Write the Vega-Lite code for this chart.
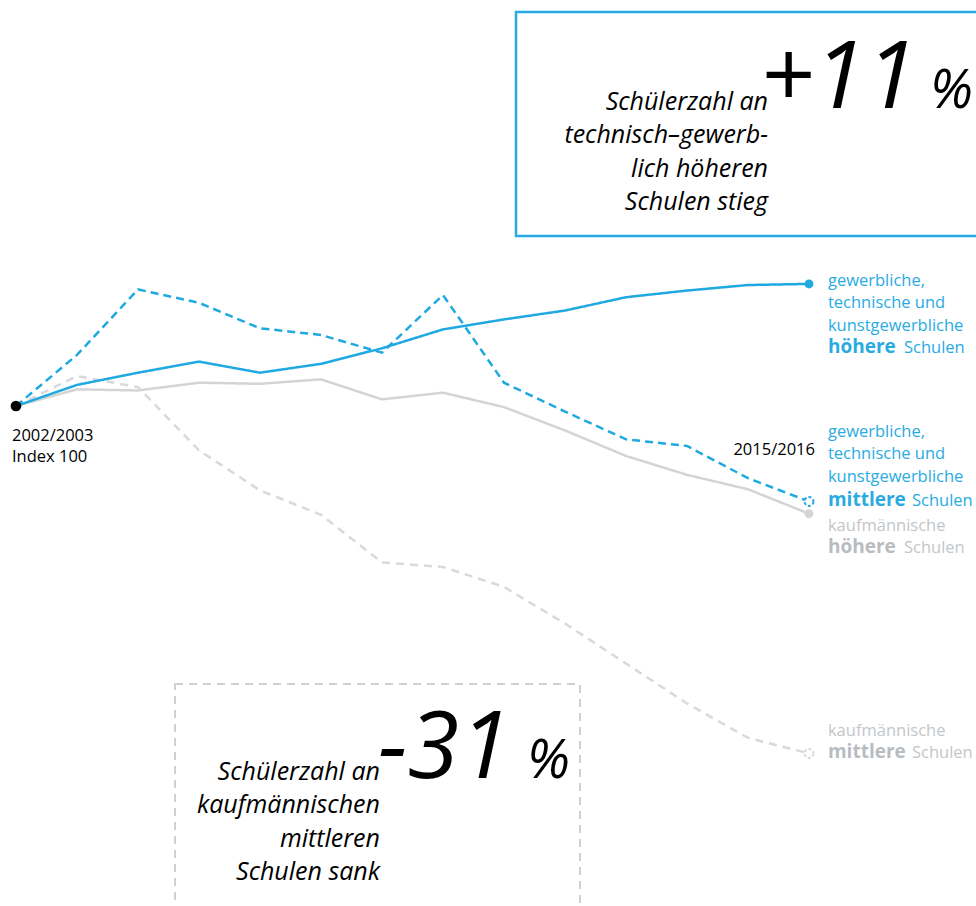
{
  "$schema": "https://vega.github.io/schema/vega-lite/v6.json",
  "width": 976,
  "height": 906,
  "autosize": {"type": "fit", "contains": "padding"},
  "padding": 0,
  "config": {"view": {"stroke": null}, "font": "Open Sans"},
  "datasets": {
    "schueler": [
      {"jahr": 2002, "typ": "gewerbliche höhere", "wert": 100},
      {"jahr": 2003, "typ": "gewerbliche höhere", "wert": 101.9},
      {"jahr": 2004, "typ": "gewerbliche höhere", "wert": 103.0},
      {"jahr": 2005, "typ": "gewerbliche höhere", "wert": 104.0},
      {"jahr": 2006, "typ": "gewerbliche höhere", "wert": 103.0},
      {"jahr": 2007, "typ": "gewerbliche höhere", "wert": 103.8},
      {"jahr": 2008, "typ": "gewerbliche höhere", "wert": 105.2},
      {"jahr": 2009, "typ": "gewerbliche höhere", "wert": 106.9},
      {"jahr": 2010, "typ": "gewerbliche höhere", "wert": 107.8},
      {"jahr": 2011, "typ": "gewerbliche höhere", "wert": 108.6},
      {"jahr": 2012, "typ": "gewerbliche höhere", "wert": 109.8},
      {"jahr": 2013, "typ": "gewerbliche höhere", "wert": 110.4},
      {"jahr": 2014, "typ": "gewerbliche höhere", "wert": 110.9},
      {"jahr": 2015, "typ": "gewerbliche höhere", "wert": 111.0},
      {"jahr": 2002, "typ": "gewerbliche mittlere", "wert": 100},
      {"jahr": 2003, "typ": "gewerbliche mittlere", "wert": 104.6},
      {"jahr": 2004, "typ": "gewerbliche mittlere", "wert": 110.5},
      {"jahr": 2005, "typ": "gewerbliche mittlere", "wert": 109.3},
      {"jahr": 2006, "typ": "gewerbliche mittlere", "wert": 107.0},
      {"jahr": 2007, "typ": "gewerbliche mittlere", "wert": 106.4},
      {"jahr": 2008, "typ": "gewerbliche mittlere", "wert": 104.8},
      {"jahr": 2009, "typ": "gewerbliche mittlere", "wert": 110.0},
      {"jahr": 2010, "typ": "gewerbliche mittlere", "wert": 102.1},
      {"jahr": 2011, "typ": "gewerbliche mittlere", "wert": 99.5},
      {"jahr": 2012, "typ": "gewerbliche mittlere", "wert": 97.0},
      {"jahr": 2013, "typ": "gewerbliche mittlere", "wert": 96.4},
      {"jahr": 2014, "typ": "gewerbliche mittlere", "wert": 93.5},
      {"jahr": 2015, "typ": "gewerbliche mittlere", "wert": 91.4},
      {"jahr": 2002, "typ": "kaufmännische höhere", "wert": 100},
      {"jahr": 2003, "typ": "kaufmännische höhere", "wert": 101.5},
      {"jahr": 2004, "typ": "kaufmännische höhere", "wert": 101.4},
      {"jahr": 2005, "typ": "kaufmännische höhere", "wert": 102.1},
      {"jahr": 2006, "typ": "kaufmännische höhere", "wert": 102.0},
      {"jahr": 2007, "typ": "kaufmännische höhere", "wert": 102.4},
      {"jahr": 2008, "typ": "kaufmännische höhere", "wert": 100.6},
      {"jahr": 2009, "typ": "kaufmännische höhere", "wert": 101.2},
      {"jahr": 2010, "typ": "kaufmännische höhere", "wert": 99.9},
      {"jahr": 2011, "typ": "kaufmännische höhere", "wert": 97.8},
      {"jahr": 2012, "typ": "kaufmännische höhere", "wert": 95.5},
      {"jahr": 2013, "typ": "kaufmännische höhere", "wert": 93.8},
      {"jahr": 2014, "typ": "kaufmännische höhere", "wert": 92.5},
      {"jahr": 2015, "typ": "kaufmännische höhere", "wert": 90.3},
      {"jahr": 2002, "typ": "kaufmännische mittlere", "wert": 100},
      {"jahr": 2003, "typ": "kaufmännische mittlere", "wert": 102.7},
      {"jahr": 2004, "typ": "kaufmännische mittlere", "wert": 101.7},
      {"jahr": 2005, "typ": "kaufmännische mittlere", "wert": 96.0},
      {"jahr": 2006, "typ": "kaufmännische mittlere", "wert": 92.4},
      {"jahr": 2007, "typ": "kaufmännische mittlere", "wert": 90.2},
      {"jahr": 2008, "typ": "kaufmännische mittlere", "wert": 85.9},
      {"jahr": 2009, "typ": "kaufmännische mittlere", "wert": 85.5},
      {"jahr": 2010, "typ": "kaufmännische mittlere", "wert": 83.7},
      {"jahr": 2011, "typ": "kaufmännische mittlere", "wert": 80.4},
      {"jahr": 2012, "typ": "kaufmännische mittlere", "wert": 76.8},
      {"jahr": 2013, "typ": "kaufmännische mittlere", "wert": 73.2},
      {"jahr": 2014, "typ": "kaufmännische mittlere", "wert": 70.1},
      {"jahr": 2015, "typ": "kaufmännische mittlere", "wert": 68.7}
    ]
  },
  "layer": [
    {
      "data": {"values": [{"kasten": "höhere"}]},
      "mark": {"type": "rect", "fill": "transparent", "stroke": "#27aae1", "strokeWidth": 2.5, "clip": true},
      "encoding": {
        "x": {"datum": 2010.197, "type": "quantitative", "scale": {"domain": [2001.738, 2017.738], "nice": false, "zero": false}, "axis": null},
        "x2": {"datum": 2018.5},
        "y": {"datum": 135.5, "type": "quantitative", "scale": {"domain": [54.955, 136.577], "nice": false, "zero": false}, "axis": null},
        "y2": {"datum": 115.32}
      }
    },
    {
      "data": {"values": [{"kasten": "mittlere"}]},
      "mark": {"type": "rect", "fill": "transparent", "stroke": "#d0d0d0", "strokeWidth": 2, "strokeDash": [8, 6], "clip": true},
      "encoding": {
        "x": {"datum": 2004.607, "type": "quantitative"},
        "x2": {"datum": 2011.246},
        "y": {"datum": 74.955, "type": "quantitative"},
        "y2": {"datum": 50}
      }
    },
    {
      "data": {"name": "schueler"},
      "transform": [{"filter": "indexof(datum.typ, 'kaufm') == 0"}],
      "mark": {"type": "line", "strokeWidth": 2.5},
      "encoding": {
        "x": {"field": "jahr", "type": "quantitative"},
        "y": {"field": "wert", "type": "quantitative"},
        "color": {"field": "typ", "type": "nominal", "legend": null,
          "scale": {"domain": ["gewerbliche höhere", "gewerbliche mittlere", "kaufmännische höhere", "kaufmännische mittlere"], "range": ["#1fa9e1", "#1fa9e1", "#d4d4d4", "#d9d9d9"]}},
        "strokeDash": {"field": "typ", "type": "nominal", "legend": null,
          "scale": {"domain": ["gewerbliche höhere", "gewerbliche mittlere", "kaufmännische höhere", "kaufmännische mittlere"], "range": [[1, 0], [8, 5], [1, 0], [8, 6]]}}
      }
    },
    {
      "data": {"name": "schueler"},
      "transform": [{"filter": "indexof(datum.typ, 'gewerb') == 0"}],
      "mark": {"type": "line", "strokeWidth": 2.5},
      "encoding": {
        "x": {"field": "jahr", "type": "quantitative"},
        "y": {"field": "wert", "type": "quantitative"},
        "color": {"field": "typ", "type": "nominal", "legend": null},
        "strokeDash": {"field": "typ", "type": "nominal", "legend": null}
      }
    },
    {
      "data": {"name": "schueler"},
      "transform": [{"filter": "datum.jahr == 2015 && indexof(datum.typ, 'höhere') > 0"}],
      "mark": {"type": "point", "shape": "circle", "filled": true, "opacity": 1, "size": 80},
      "encoding": {
        "x": {"field": "jahr", "type": "quantitative"},
        "y": {"field": "wert", "type": "quantitative"},
        "color": {"field": "typ", "type": "nominal", "legend": null}
      }
    },
    {
      "data": {"name": "schueler"},
      "transform": [{"filter": "datum.jahr == 2015 && indexof(datum.typ, 'mittlere') > 0"}],
      "mark": {"type": "point", "shape": "circle", "filled": false, "fill": "white", "opacity": 1, "size": 80, "strokeWidth": 2, "strokeDash": [3, 2]},
      "encoding": {
        "x": {"field": "jahr", "type": "quantitative"},
        "y": {"field": "wert", "type": "quantitative"},
        "color": {"field": "typ", "type": "nominal", "legend": null}
      }
    },
    {
      "data": {"values": [{"start": "2002/2003"}]},
      "mark": {"type": "point", "shape": "circle", "filled": true, "fill": "black", "opacity": 1, "size": 115},
      "encoding": {
        "x": {"datum": 2002, "type": "quantitative"},
        "y": {"datum": 100, "type": "quantitative"}
      }
    },
    {
      "data": {"values": [{"text": ["2002/2003", "Index 100"]}]},
      "mark": {"type": "text", "align": "left", "baseline": "alphabetic", "fontSize": 16.5, "lineHeight": 21, "color": "#000000"},
      "encoding": {
        "x": {"datum": 2001.934, "type": "quantitative"},
        "y": {"datum": 96.85, "type": "quantitative"},
        "text": {"field": "text"}
      }
    },
    {
      "data": {"values": [{"text": "2015/2016"}]},
      "mark": {"type": "text", "align": "right", "baseline": "alphabetic", "fontSize": 16.5, "color": "#000000"},
      "encoding": {
        "x": {"datum": 2015.098, "type": "quantitative"},
        "y": {"datum": 95.59, "type": "quantitative"},
        "text": {"field": "text"}
      }
    },
    {
      "data": {"values": [{"text": ["gewerbliche,", "technische und", "kunstgewerbliche"]}]},
      "mark": {"type": "text", "align": "left", "baseline": "alphabetic", "fontSize": 16.5, "lineHeight": 22.3, "color": "#29abe2"},
      "encoding": {
        "x": {"datum": 2015.311, "type": "quantitative"},
        "y": {"datum": 110.81, "type": "quantitative"},
        "text": {"field": "text"}
      }
    },
    {
      "data": {"values": [{"text": "höhere"}]},
      "mark": {"type": "text", "align": "left", "baseline": "alphabetic", "fontSize": 19, "fontWeight": "bold", "color": "#29abe2"},
      "encoding": {
        "x": {"datum": 2015.311, "type": "quantitative"},
        "y": {"datum": 104.77, "type": "quantitative"},
        "text": {"field": "text"}
      }
    },
    {
      "data": {"values": [{"text": "Schulen"}]},
      "mark": {"type": "text", "align": "left", "baseline": "alphabetic", "fontSize": 16.5, "color": "#29abe2", "dx": 76},
      "encoding": {
        "x": {"datum": 2015.311, "type": "quantitative"},
        "y": {"datum": 104.77, "type": "quantitative"},
        "text": {"field": "text"}
      }
    },
    {
      "data": {"values": [{"text": ["gewerbliche,", "technische und", "kunstgewerbliche"]}]},
      "mark": {"type": "text", "align": "left", "baseline": "alphabetic", "fontSize": 16.5, "lineHeight": 22.3, "color": "#29abe2"},
      "encoding": {
        "x": {"datum": 2015.311, "type": "quantitative"},
        "y": {"datum": 97.21, "type": "quantitative"},
        "text": {"field": "text"}
      }
    },
    {
      "data": {"values": [{"text": "mittlere"}]},
      "mark": {"type": "text", "align": "left", "baseline": "alphabetic", "fontSize": 19, "fontWeight": "bold", "color": "#29abe2"},
      "encoding": {
        "x": {"datum": 2015.311, "type": "quantitative"},
        "y": {"datum": 90.99, "type": "quantitative"},
        "text": {"field": "text"}
      }
    },
    {
      "data": {"values": [{"text": "Schulen"}]},
      "mark": {"type": "text", "align": "left", "baseline": "alphabetic", "fontSize": 16.5, "color": "#29abe2", "dx": 84},
      "encoding": {
        "x": {"datum": 2015.311, "type": "quantitative"},
        "y": {"datum": 90.99, "type": "quantitative"},
        "text": {"field": "text"}
      }
    },
    {
      "data": {"values": [{"text": "kaufmännische"}]},
      "mark": {"type": "text", "align": "left", "baseline": "alphabetic", "fontSize": 16.5, "color": "#c3c6c9"},
      "encoding": {
        "x": {"datum": 2015.311, "type": "quantitative"},
        "y": {"datum": 88.74, "type": "quantitative"},
        "text": {"field": "text"}
      }
    },
    {
      "data": {"values": [{"text": "höhere"}]},
      "mark": {"type": "text", "align": "left", "baseline": "alphabetic", "fontSize": 19, "fontWeight": "bold", "color": "#b8bcc0"},
      "encoding": {
        "x": {"datum": 2015.311, "type": "quantitative"},
        "y": {"datum": 86.76, "type": "quantitative"},
        "text": {"field": "text"}
      }
    },
    {
      "data": {"values": [{"text": "Schulen"}]},
      "mark": {"type": "text", "align": "left", "baseline": "alphabetic", "fontSize": 16.5, "color": "#c3c6c9", "dx": 76},
      "encoding": {
        "x": {"datum": 2015.311, "type": "quantitative"},
        "y": {"datum": 86.76, "type": "quantitative"},
        "text": {"field": "text"}
      }
    },
    {
      "data": {"values": [{"text": "kaufmännische"}]},
      "mark": {"type": "text", "align": "left", "baseline": "alphabetic", "fontSize": 16.5, "color": "#c3c6c9"},
      "encoding": {
        "x": {"datum": 2015.311, "type": "quantitative"},
        "y": {"datum": 70.27, "type": "quantitative"},
        "text": {"field": "text"}
      }
    },
    {
      "data": {"values": [{"text": "mittlere"}]},
      "mark": {"type": "text", "align": "left", "baseline": "alphabetic", "fontSize": 19, "fontWeight": "bold", "color": "#b8bcc0"},
      "encoding": {
        "x": {"datum": 2015.311, "type": "quantitative"},
        "y": {"datum": 68.29, "type": "quantitative"},
        "text": {"field": "text"}
      }
    },
    {
      "data": {"values": [{"text": "Schulen"}]},
      "mark": {"type": "text", "align": "left", "baseline": "alphabetic", "fontSize": 16.5, "color": "#c3c6c9", "dx": 84},
      "encoding": {
        "x": {"datum": 2015.311, "type": "quantitative"},
        "y": {"datum": 68.29, "type": "quantitative"},
        "text": {"field": "text"}
      }
    },
    {
      "data": {"values": [{"text": "+11"}]},
      "mark": {"type": "text", "align": "left", "baseline": "alphabetic", "fontSize": 94, "fontStyle": "italic", "fontWeight": 400, "color": "#000000"},
      "encoding": {
        "x": {"datum": 2014.197, "type": "quantitative"},
        "y": {"datum": 126.85, "type": "quantitative"},
        "text": {"field": "text"}
      }
    },
    {
      "data": {"values": [{"text": "%"}]},
      "mark": {"type": "text", "align": "left", "baseline": "alphabetic", "fontSize": 54, "fontStyle": "italic", "fontWeight": 400, "color": "#000000"},
      "encoding": {
        "x": {"datum": 2016.984, "type": "quantitative"},
        "y": {"datum": 126.85, "type": "quantitative"},
        "text": {"field": "text"}
      }
    },
    {
      "data": {"values": [{"text": ["Schülerzahl an", "technisch–gewerb-", "lich höheren", "Schulen stieg"]}]},
      "mark": {"type": "text", "align": "right", "baseline": "alphabetic", "fontSize": 25, "lineHeight": 33.5, "fontStyle": "italic", "fontWeight": 400, "color": "#000000"},
      "encoding": {
        "x": {"datum": 2014.328, "type": "quantitative"},
        "y": {"datum": 126.67, "type": "quantitative"},
        "text": {"field": "text"}
      }
    },
    {
      "data": {"values": [{"text": "-31"}]},
      "mark": {"type": "text", "align": "left", "baseline": "alphabetic", "fontSize": 94, "fontStyle": "italic", "fontWeight": 400, "color": "#000000"},
      "encoding": {
        "x": {"datum": 2007.934, "type": "quantitative"},
        "y": {"datum": 66.49, "type": "quantitative"},
        "text": {"field": "text"}
      }
    },
    {
      "data": {"values": [{"text": "%"}]},
      "mark": {"type": "text", "align": "left", "baseline": "alphabetic", "fontSize": 54, "fontStyle": "italic", "fontWeight": 400, "color": "#000000"},
      "encoding": {
        "x": {"datum": 2010.377, "type": "quantitative"},
        "y": {"datum": 66.49, "type": "quantitative"},
        "text": {"field": "text"}
      }
    },
    {
      "data": {"values": [{"text": ["Schülerzahl an", "kaufmännischen", "mittleren", "Schulen sank"]}]},
      "mark": {"type": "text", "align": "right", "baseline": "alphabetic", "fontSize": 25, "lineHeight": 33.5, "fontStyle": "italic", "fontWeight": 400, "color": "#000000"},
      "encoding": {
        "x": {"datum": 2007.967, "type": "quantitative"},
        "y": {"datum": 66.31, "type": "quantitative"},
        "text": {"field": "text"}
      }
    }
  ]
}
